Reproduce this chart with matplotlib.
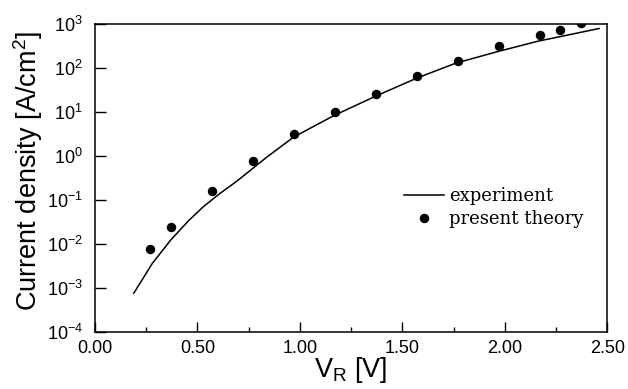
import matplotlib
matplotlib.use("Agg")
import matplotlib.pyplot as plt
import numpy as np

# experiment curve (V_R [V], current density [A/cm^2])
v_exp = [0.19, 0.28, 0.37, 0.46, 0.53, 0.61, 0.69, 0.76, 0.84, 0.97, 1.17, 1.37, 1.57, 1.76, 1.96, 2.16, 2.46]
j_exp = [7.6e-4, 3.6e-3, 1.23e-2, 3.5e-2, 7.1e-2, 0.141, 0.263, 0.479, 0.955,
         2.7, 8.5, 23, 59, 129, 234, 407, 794]

# present theory points
v_th = [0.27, 0.37, 0.57, 0.77, 0.97, 1.17, 1.37, 1.57, 1.77, 1.97, 2.17, 2.27, 2.37]
j_th = [7.6e-3, 0.0245, 0.162, 0.77, 3.1, 10, 26, 66, 144, 311, 570, 740, 1040]

xticks = [0.0, 0.5, 1.0, 1.5, 2.0, 2.5]

plt.rcParams['font.family'] = ['Liberation Sans', 'DejaVu Sans']
plt.rcParams['axes.unicode_minus'] = False

fig = plt.figure(figsize=(6.28, 3.89), dpi=100)
ax = fig.add_axes([0.151, 0.1465, 0.816, 0.7915])

ax.plot(v_exp, j_exp, color='black', lw=1.1, label='experiment')
ax.plot(v_th, j_th, 'o', color='black', ms=5.8, label='present theory')

ax.set_yscale('log')
ax.set_xlim(0, 2.5)
ax.set_ylim(1e-4, 1e3)
ax.set_xticks(xticks)
ax.set_xticklabels(['%.2f' % v for v in xticks])
ax.set_xticks(np.arange(0.25, 2.5, 0.5), minor=True)
ax.yaxis.set_minor_locator(matplotlib.ticker.NullLocator())

ax.tick_params(axis='both', which='major', direction='in', length=7, width=1, labelsize=13)
ax.tick_params(axis='x', which='major', pad=6)
ax.tick_params(axis='y', which='major', pad=8.5, length=8)
ax.tick_params(axis='x', which='minor', direction='in', length=3.5, width=1)
for s in ax.spines.values():
    s.set_linewidth(1.1)

ax.set_ylabel('Current density [A/cm$^\\mathregular{2}$]', fontsize=19.5)
ax.yaxis.set_label_coords(-0.097, 0.523)
ax.set_xlabel('V$_\\mathregular{R}$ [V]', fontsize=19.5, labelpad=-2)

ax.legend(loc='upper left', bbox_to_anchor=(0.59, 0.495), frameon=False,
          prop={'family': 'DejaVu Serif', 'size': 13}, handlelength=2.2,
          handletextpad=0.25, labelspacing=0.3, borderaxespad=0)

fig.savefig('out.png', dpi=100)
